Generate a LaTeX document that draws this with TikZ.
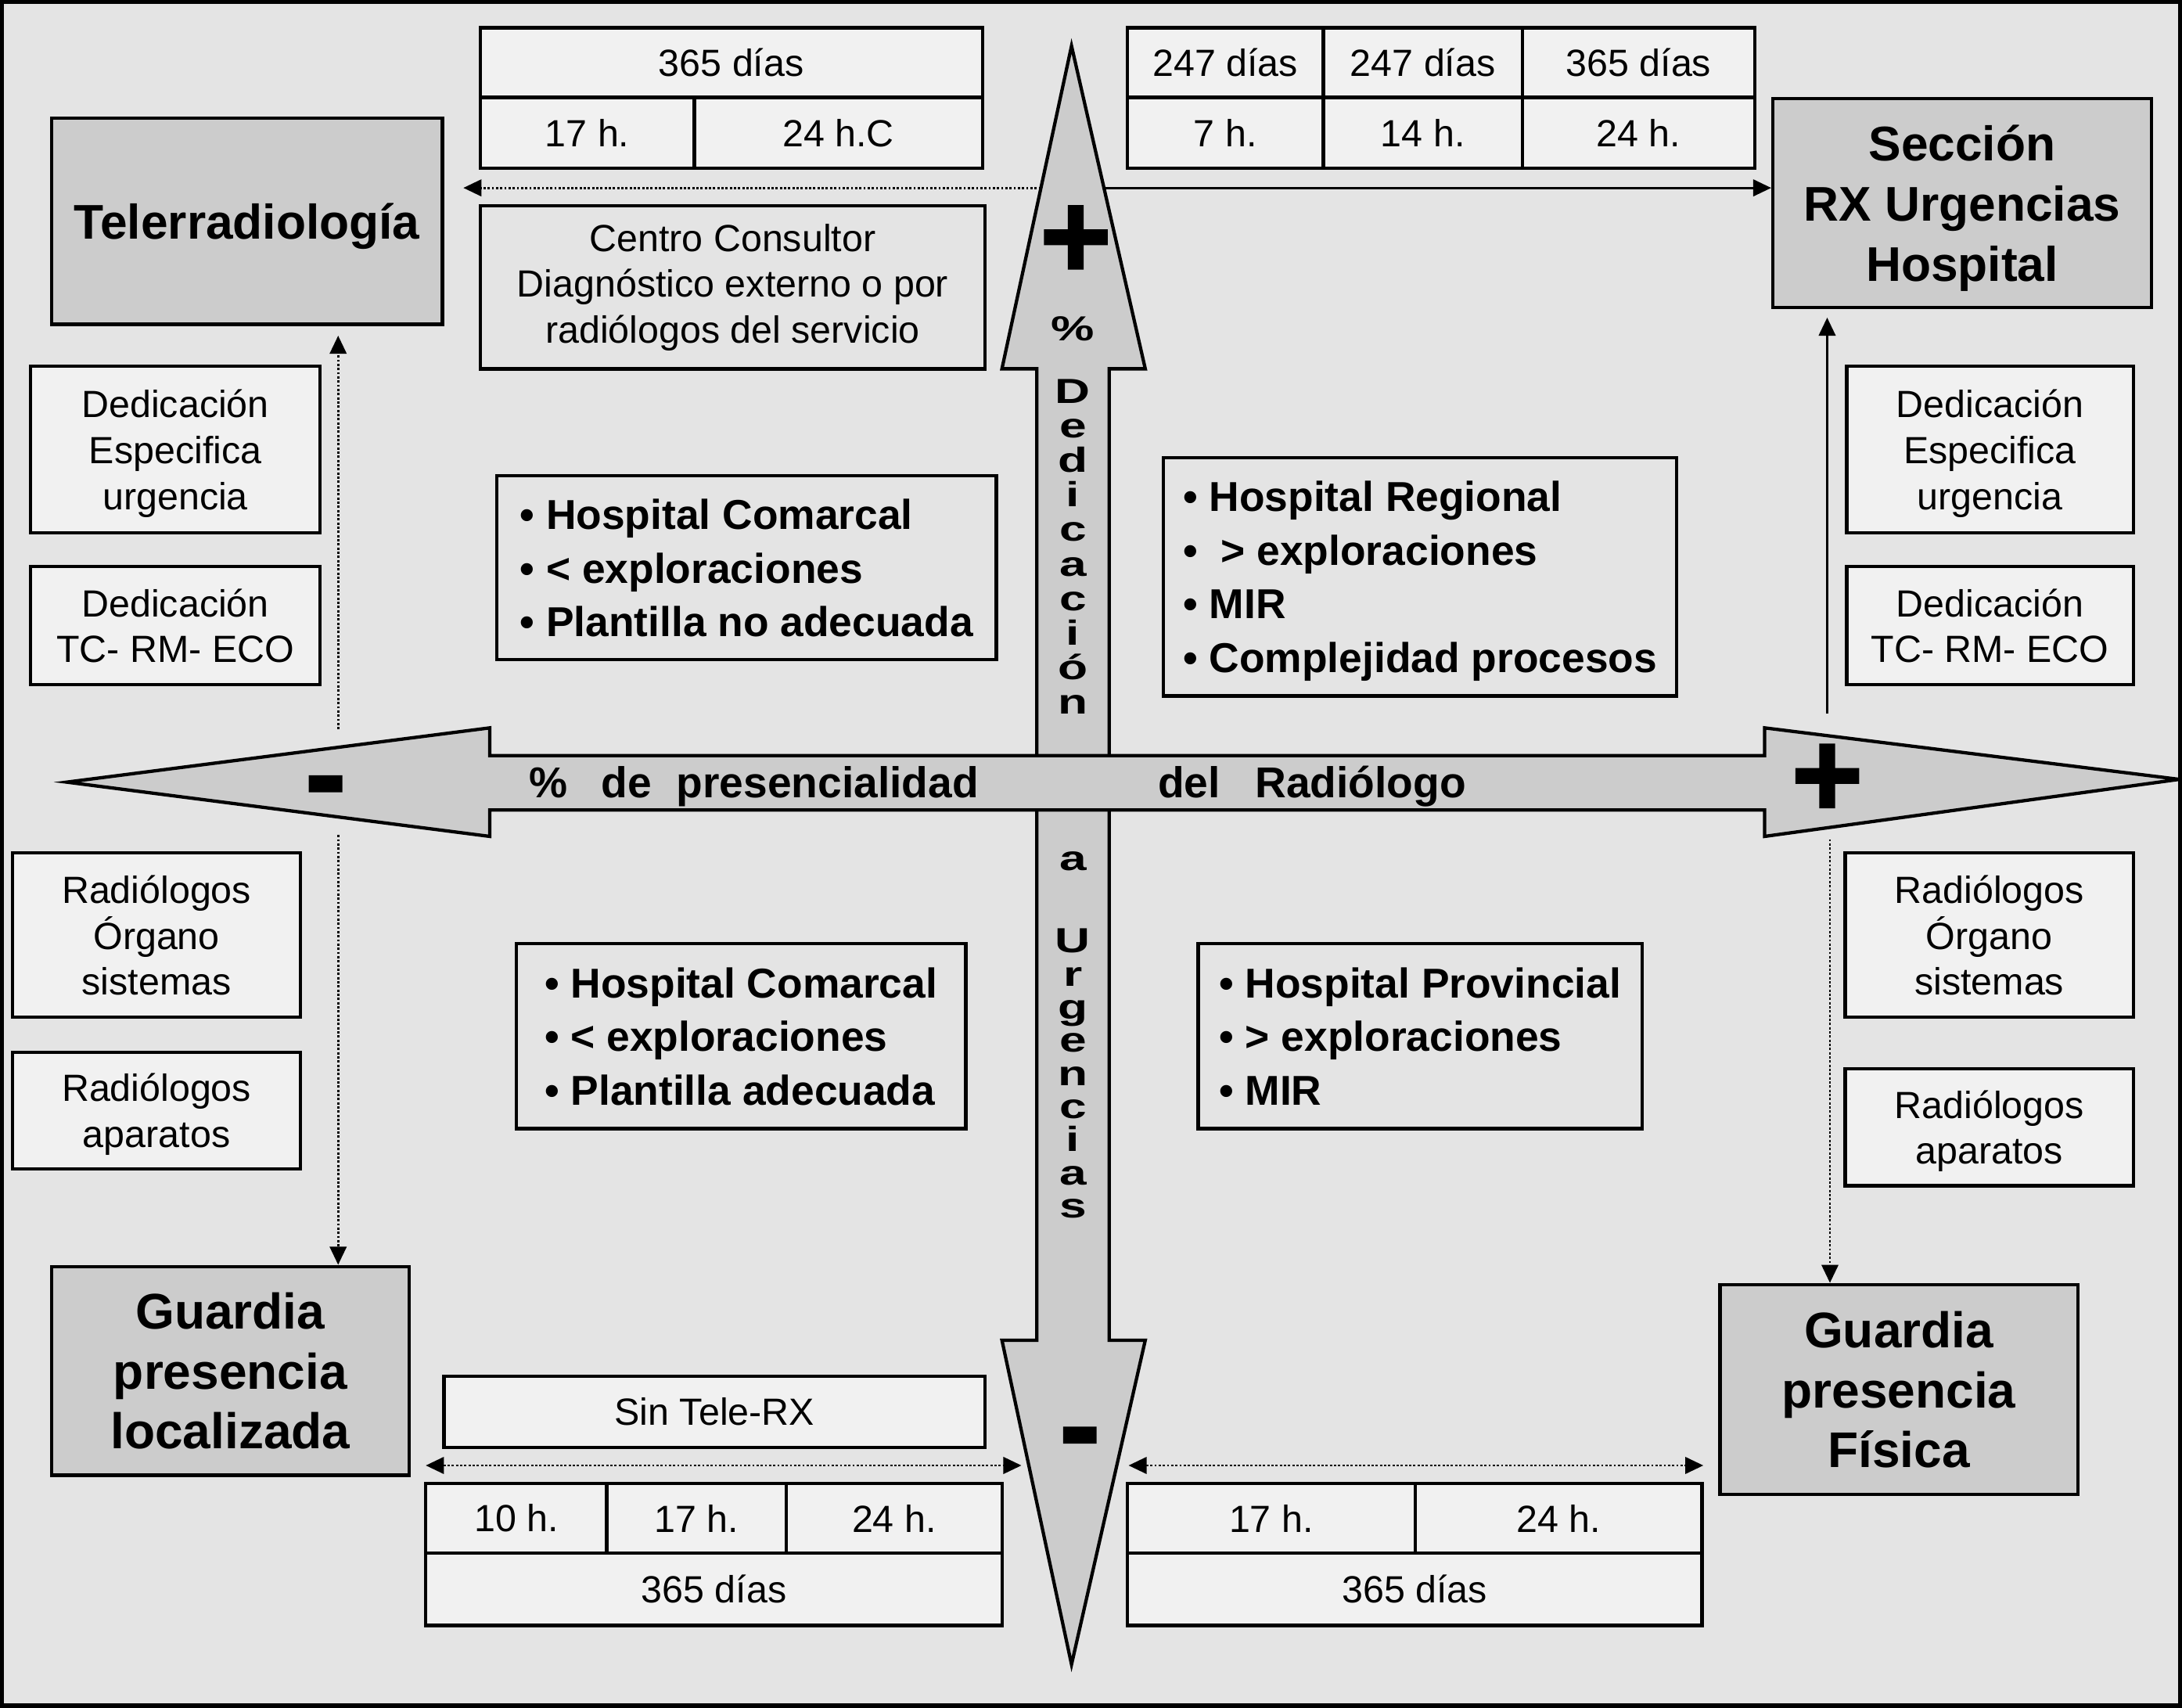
\documentclass[tikz,border=0pt]{standalone}
\usepackage{fontspec}
\setmainfont{Liberation Sans}
\newfontfamily\heavyfont{Liberation Sans Bold}[FakeBold=2]
\newfontfamily\widefont{Liberation Sans Bold}[FakeStretch=1.4]
\usetikzlibrary{arrows.meta}
\definecolor{bg}{gray}{0.895}
\definecolor{light}{gray}{0.945}
\definecolor{dark}{gray}{0.8}
\definecolor{arrowfill}{gray}{0.8}
\newcommand{\bx}[7]{%
  \pgfmathsetmacro\bxw{0.5*(#5-#3)}\pgfmathsetmacro\bxh{0.5*(#6-#4)}%
  \pgfmathsetmacro\bxx{(#3+#5)/2}\pgfmathsetmacro\bxy{(#4+#6)/2}%
  \node[#2, minimum width=\bxw pt, minimum height=\bxh pt] (#1) at (\bxx,\bxy) {#7};}
\begin{document}
\begin{tikzpicture}[x=0.5pt, y=-0.5pt,
  basebox/.style={draw, line width=1.2pt, inner sep=0pt, align=center},
  cell/.style={basebox, fill=light, font=\fontsize{13.6}{16.5}\selectfont},
  lightbox/.style={basebox, fill=light, font=\fontsize{13.6}{16.5}\selectfont, text depth=0pt},
  plainbox/.style={basebox, fill=bg, font=\fontsize{13.6}{16.5}\selectfont},
  titlebox/.style={basebox, fill=dark, font=\bfseries\fontsize{17.5}{21.75}\selectfont},
  guardbox/.style={basebox, fill=dark, font=\bfseries\fontsize{18}{21.5}\selectfont},
  quad/.style={basebox, fill=bg, align=left, font=\bfseries\fontsize{15}{19.25}\selectfont},
  bigsym/.style={inner sep=0pt, font=\heavyfont\fontsize{44}{44}\selectfont},
  axistext/.style={inner sep=0pt, font=\bfseries\fontsize{15.5}{18}\selectfont},
  vtext/.style={inner sep=0pt, align=center},
  conn/.style={line width=0.8pt, -{Triangle[length=6.5pt,width=6pt]}},
  dotconn/.style={conn, dash pattern=on 0.8pt off 0.7pt},
  bigarrow/.style={fill=arrowfill, line width=1.2pt}
]
\useasboundingbox (0,0) rectangle (1568,1227);
% background and frame
\draw[fill=bg, line width=2pt] (1,1) rectangle (1567,1226);

% vertical arrow (Dedicación a Urgencias)
\draw[bigarrow] (770,33) -- (823,265) -- (797,265) -- (797,963) -- (823,963)
  -- (770,1196) -- (720,963) -- (745,963) -- (745,265) -- (720,265) -- cycle;
% horizontal arrow (presencialidad)
\draw[bigarrow] (48,562) -- (352,523) -- (352,543) -- (1268,543) -- (1268,523)
  -- (1566,560) -- (1268,601) -- (1268,582) -- (352,582) -- (352,601) -- cycle;

% symbols and axis labels
\node[bigsym] (plusv) at (773,174) {+};
\node[bigsym] (plush) at (1313,561) {+};
\node[bigsym] (minush) at (234,572) {-};
\node[bigsym] (minusv) at (776,1040) {-};
\node[axistext, anchor=base west] (axh) at (380,573)
  {\%\hspace{12pt}de\hspace{9pt}presencialidad\hspace{64.5pt}del\hspace{12.5pt}Radiólogo};
\node[vtext, anchor=base, font=\widefont\fontsize{12.5}{12.4}\selectfont] (axv1) at (771,513)
  {\%\\[10.1pt]D\\e\\d\\i\\c\\a\\c\\i\\ó\\n};
\node[vtext, anchor=base, font=\widefont\fontsize{12.5}{11.9}\selectfont] (axv2) at (771,875)
  {a\\[17.6pt]U\\r\\g\\e\\n\\c\\i\\a\\s};

% top tables
\bx{tm365}{cell}{345}{20}{706}{70}{365 días}
\bx{tm17}{cell}{345}{70}{499}{121}{17 h.}
\bx{tm24}{cell}{499}{70}{706}{121}{24 h.C}
\bx{tr1}{cell}{810}{20}{951}{70}{247 días}
\bx{tr2}{cell}{951}{20}{1094}{70}{247 días}
\bx{tr3}{cell}{1094}{20}{1261}{70}{365 días}
\bx{tr4}{cell}{810}{70}{951}{121}{7 h.}
\bx{tr5}{cell}{951}{70}{1094}{121}{14 h.}
\bx{tr6}{cell}{1094}{70}{1261}{121}{24 h.}

% bottom tables
\bx{sintele}{cell}{319}{989}{708}{1040}{Sin Tele-RX}
\bx{bl10}{cell}{306}{1066}{436}{1116}{10 h.}
\bx{bl17}{cell}{436}{1066}{565}{1116}{17 h.}
\bx{bl24}{cell}{565}{1066}{720}{1116}{24 h.}
\bx{bl365}{cell}{306}{1116}{720}{1168}{365 días}
\bx{br17}{cell}{810}{1066}{1017}{1116}{17 h.}
\bx{br24}{cell}{1017}{1066}{1223}{1116}{24 h.}
\bx{br365}{cell}{810}{1116}{1223}{1168}{365 días}

% centro consultor
\bx{centro}{plainbox}{345}{148}{708}{265}{Centro Consultor\\Diagnóstico externo o por\\radiólogos del servicio}

% title boxes
\bx{tele}{titlebox, text depth=0pt}{37}{85}{318}{233}{Telerradiología}
\bx{sec}{titlebox, text depth=0pt}{1274}{71}{1546}{221}{Sección\\RX Urgencias\\Hospital}
\bx{gloc}{guardbox, text depth=0pt}{37}{910}{294}{1060}{Guardia\\presencia\\localizada}
\bx{gfis}{guardbox, text depth=0pt}{1236}{923}{1493}{1074}{Guardia\\presencia\\Física}

% side boxes
\bx{ld1}{lightbox}{22}{263}{230}{383}{Dedicación\\Especifica\\urgencia}
\bx{ld2}{lightbox}{22}{407}{230}{492}{Dedicación\\TC- RM- ECO}
\bx{lr1}{lightbox}{9}{613}{216}{731}{Radiólogos\\Órgano\\sistemas}
\bx{lr2}{lightbox}{9}{756}{216}{840}{Radiólogos\\aparatos}
\bx{rd1}{lightbox}{1327}{263}{1533}{383}{Dedicación\\Especifica\\urgencia}
\bx{rd2}{lightbox}{1327}{407}{1533}{492}{Dedicación\\TC- RM- ECO}
\bx{rr1}{lightbox}{1326}{613}{1533}{731}{Radiólogos\\Órgano\\sistemas}
\bx{rr2}{lightbox}{1326}{768}{1533}{852}{Radiólogos\\aparatos}

% quadrant boxes
\bx{q1}{quad, text depth=0pt}{357}{342}{716}{474}{• Hospital Comarcal\\• < exploraciones\\• Plantilla no adecuada}
\bx{q2}{quad, text depth=0pt}{836}{329}{1205}{500}{• Hospital Regional\\•\ \ > exploraciones\\• MIR\\• Complejidad procesos}
\bx{q3}{quad, text depth=0pt}{371}{678}{694}{811}{• Hospital Comarcal\\• < exploraciones\\• Plantilla adecuada}
\bx{q4}{quad, text depth=0pt}{861}{678}{1180}{811}{• Hospital Provincial\\• > exploraciones\\• MIR}

% connectors
\coordinate (vhl) at (748,135);
\coordinate (vhr) at (794,135);
\coordinate (teleend) at (333,135);
\draw[dotconn] (vhl) -- (teleend);
\draw[conn] (vhr) -- (sec.west |- vhr);

\coordinate (lup) at (243,524);
\coordinate (ldown) at (243,600);
\draw[dotconn, shorten >=3.5pt] (lup) -- (lup |- tele.south);
\draw[dotconn] (ldown) -- (ldown |- gloc.north);

\coordinate (rup) at (1313,513);
\coordinate (rdown) at (1315,603);
\draw[conn, shorten >=3pt] (rup) -- (rup |- sec.south);
\draw[dotconn] (rdown) -- (rdown |- gfis.north);

\coordinate (bla) at (306,1053);
\coordinate (blb) at (734,1053);
\coordinate (bra) at (811,1053);
\coordinate (brb) at (1224,1053);
\draw[dotconn, {Triangle[length=6.5pt,width=6pt]}-{Triangle[length=6.5pt,width=6pt]}] (bla) -- (blb);
\draw[dotconn, {Triangle[length=6.5pt,width=6pt]}-{Triangle[length=6.5pt,width=6pt]}] (bra) -- (brb);
\end{tikzpicture}
\end{document}
